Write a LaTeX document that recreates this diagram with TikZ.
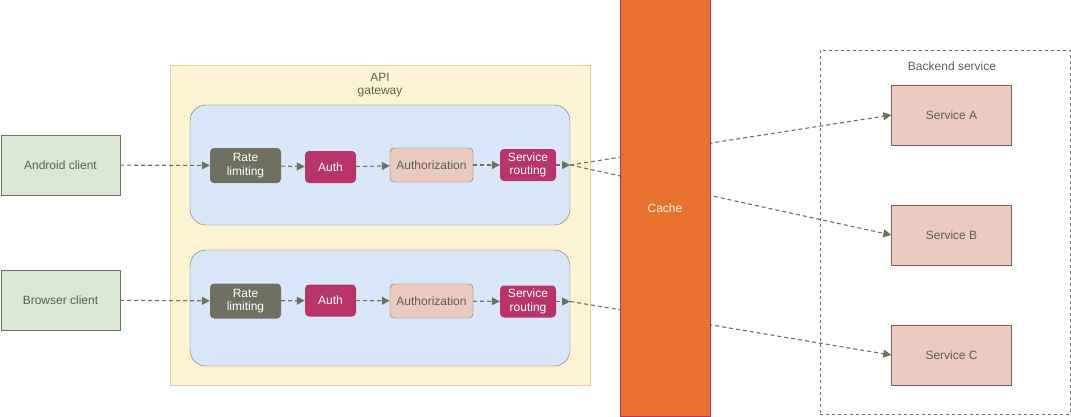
\documentclass[tikz,border=0pt]{standalone}
\usepackage{fontspec}
\setmainfont{Liberation Sans}
\usetikzlibrary{arrows.meta}

\definecolor{linegray}{HTML}{6F7060}
\definecolor{textgray}{HTML}{5E5F50}
\definecolor{clientgreen}{HTML}{D9E7D4}
\definecolor{gwyellow}{HTML}{FCF3D2}
\definecolor{gwborder}{HTML}{F0C6AC}
\definecolor{pipeblue}{HTML}{DAE7FA}
\definecolor{authred}{HTML}{B73568}
\definecolor{salmon}{HTML}{EBCBBF}
\definecolor{svcborder}{HTML}{8C5A5E}
\definecolor{cacheorange}{HTML}{E9712F}

\begin{document}
\begin{tikzpicture}[x=1pt,y=-1pt,
    every node/.style={font=\fontsize{12}{13.5}\selectfont, align=center, inner sep=0pt},
    client/.style={draw=linegray, fill=clientgreen, text=textgray, minimum width=119pt, minimum height=60pt},
    gateway/.style={draw=gwborder, fill=gwyellow, minimum width=420pt, minimum height=320pt},
    pipeline/.style={draw=linegray, fill=pipeblue, rounded corners=16pt, minimum width=380pt},
    ratebox/.style={fill=linegray, text=white, rounded corners=4pt, minimum width=71pt, minimum height=35pt},
    authbox/.style={fill=authred, text=white, rounded corners=4pt, minimum width=51pt, minimum height=32pt},
    authzbox/.style={draw=linegray, fill=salmon, text=textgray, rounded corners=4pt, minimum width=83pt, minimum height=34pt},
    routebox/.style={fill=authred, text=white, rounded corners=4pt, minimum width=56pt, minimum height=32pt},
    backend/.style={draw=linegray, dashed, line width=0.8pt, minimum width=250pt, minimum height=364pt},
    service/.style={draw=svcborder, fill=salmon, text=textgray, minimum width=120pt, minimum height=60pt},
    cache/.style={draw=authred, fill=cacheorange, text=white!92!orange, minimum width=90pt, minimum height=417pt},
    flow/.style={linegray, line width=1.1pt, dash pattern=on 4pt off 3pt, -{Triangle[length=8pt,width=8pt]}}]

    \useasboundingbox (0,0) rectangle (1071,416);

    % Clients
    \node[client] (android) at (60.5,165) {Android client};
    \node[client] (browser) at (60.5,300) {Browser client};

    % API gateway
    \node[gateway] (gw) at (380,225) {};
    \node[text=textgray] (gwlabel) at (380,85) {API\\gateway};
    \node[pipeline, minimum height=120pt] (pipe1) at (380,165) {};
    \node[pipeline, minimum height=116pt] (pipe2) at (380,308) {};

    % First pipeline
    \node[ratebox] (rate1) at (245.5,165.5) {Rate\\limiting};
    \node[authbox] (auth1) at (330.5,167) {Auth};
    \node[authzbox] (authz1) at (431.5,165) {Authorization};
    \node[routebox] (route1) at (528,165) {Service\\routing};

    % Second pipeline
    \node[ratebox] (rate2) at (245.5,301) {Rate\\limiting};
    \node[authbox] (auth2) at (330.5,300.5) {Auth};
    \node[authzbox] (authz2) at (431.5,301) {Authorization};
    \node[routebox] (route2) at (528,301.5) {Service\\routing};

    % Backend service
    \node[backend] (backend) at (945,232) {};
    \node[text=textgray] (backlabel) at (952,66) {Backend service};
    \node[service] (svcA) at (951.5,115) {Service A};
    \node[service] (svcB) at (951.5,235) {Service B};
    \node[service] (svcC) at (951.5,355) {Service C};

    % Requests through the gateway
    \coordinate (out1) at (pipe1.east |- route1);
    \coordinate (out2) at (pipe2.east |- route2);
    \draw[flow] (android) -- (rate1);
    \draw[flow] (rate1) -- (auth1);
    \draw[flow] (auth1) -- (authz1);
    \draw[flow] (authz1) -- (route1);
    \draw[flow] (route1) -- (out1);
    \draw[flow] (browser) -- (rate2);
    \draw[flow] (rate2) -- (auth2);
    \draw[flow] (auth2) -- (authz2);
    \draw[flow] (authz2) -- (route2);
    \draw[flow] (route2) -- (out2);

    % Routing to services (behind the cache)
    \draw[flow] (out1) -- (svcA.west);
    \draw[flow] (out1) -- (svcB.west);
    \draw[flow] (out2) -- (svcC.west);

    % Cache
    \node[cache] (cache) at (665,208) {Cache};
\end{tikzpicture}
\end{document}
